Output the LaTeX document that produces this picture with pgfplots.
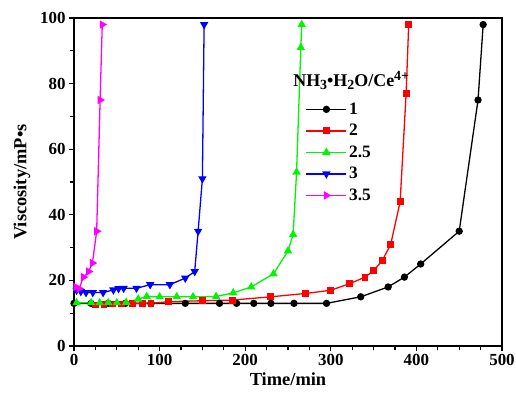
\documentclass[border=0pt]{standalone}
\usepackage{fontspec}
\setmainfont{Liberation Serif}
\usepackage{pgfplots}
\pgfplotsset{compat=1.18}

\definecolor{cblack}{RGB}{0,0,0}
\definecolor{cred}{RGB}{255,0,0}
\definecolor{cgreen}{RGB}{0,245,0}
\definecolor{cblue}{RGB}{0,0,255}
\definecolor{cmag}{RGB}{255,0,255}

% sub/superscripts in the text font
\newcommand{\lo}[1]{\raisebox{-0.35ex}{\fontsize{14}{16}\selectfont #1}}
\newcommand{\hi}[1]{\raisebox{0.75ex}{\fontsize{14}{16}\selectfont #1}}

\begin{document}
\begin{tikzpicture}
\begin{axis}[
  name=ax,
  width=428bp, height=328bp, scale only axis,
  xmin=0, xmax=500, ymin=0, ymax=100,
  xtick={0,100,...,500}, ytick={0,20,...,100},
  minor x tick num=3, minor y tick num=1,
  tick align=outside,
  major tick length=5bp, minor tick length=4bp,
  xtick pos=bottom, ytick pos=left,
  axis line style={line width=1.6pt},
  every tick/.style={line width=1.2pt, black},
  /pgf/number format/assume math mode=true,
  tick label style={font=\bfseries\fontsize{17}{19}\selectfont},
  label style={font=\bfseries\fontsize{18.5}{21}\selectfont},
  xlabel={Time/min}, ylabel={Viscosity/mP•s},
  xlabel style={yshift=0bp},
  ylabel style={yshift=3bp},
  every axis plot/.append style={line width=1.3pt},
  legend style={draw=none, fill=none, at={(rel axis cs:0.541,0.748)}, anchor=north west,
    font=\bfseries\fontsize{17.5}{19}\selectfont, row sep=4.5bp,
    inner sep=0pt},
  legend cell align=left,
  legend image code/.code={%
    \draw[mark repeat=2,mark phase=2,#1] plot coordinates {(0bp,0bp) (20bp,0bp) (40bp,0bp)};},
]
\addplot[cblack, mark=*, mark size=3pt] coordinates {
 (0,13) (20,13) (40,13) (60,13) (90,13) (130,13) (170,13) (190,13) (210,13)
 (230,13) (257,13) (295,13) (335,15) (367,18) (386,21) (405,25) (450,35)
 (472,75) (478,98)};
\addlegendentry{1}
\addplot[cred, mark=square*, mark size=2.8pt] coordinates {
 (25,12.5) (35,12.7) (45,12.8) (55,12.8) (68,13) (80,13) (90,13) (110,13.5)
 (150,13.8) (185,14) (230,15) (270,16) (300,17) (322,19) (340,21) (350,23)
 (360,26) (370,31) (381,44) (388,77) (391,98)};
\addlegendentry{2}
\addplot[cgreen, mark=triangle*, mark size=3.6pt] coordinates {
 (3,13.2) (20,13.2) (30,13.2) (40,13.2) (50,13.2) (61,13.3) (75,14.3) (85,15.1)
 (100,15) (120,15) (139,15) (166,15.1) (186,16.2) (207,18) (233,22) (250,29)
 (256,34) (260,53) (265,91) (266,98)};
\addlegendentry{2.5}
\addplot[cblue, mark=triangle*, mark options={rotate=180}, mark size=3.6pt] coordinates {
 (3,17) (8,16.6) (14,16.3) (22,16.3) (34,16.3) (46,17.1) (52,17.5) (58,17.6)
 (73,17.6) (89,18.7) (112,18.7) (130,20.7) (141,22.7) (145,35) (150,51) (152,98)};
\addlegendentry{3}
\addplot[cmag, mark=triangle*, mark options={rotate=-90}, mark size=3.6pt] coordinates {
 (2,18) (6,17.5) (11,21) (17,22.7) (21.5,25.3) (26.5,35) (30.5,75) (33,98)};
\addlegendentry{3.5}
\node[anchor=base west, inner sep=0pt, font=\bfseries\fontsize{18}{20}\selectfont]
  at (rel axis cs:0.512,0.79) {NH\lo{3}•H\lo{2}O/Ce\hi{4+}};
\end{axis}
\pgfresetboundingbox
\useasboundingbox ([shift={(-74bp,-58bp)}]ax.south west) rectangle ([shift={(14bp,18bp)}]ax.north east);
\end{tikzpicture}
\end{document}
